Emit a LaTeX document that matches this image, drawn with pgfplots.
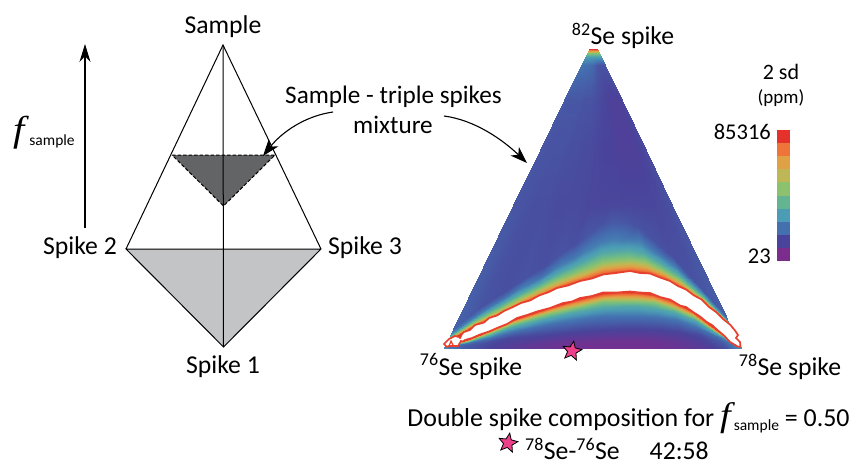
\documentclass[border=0pt]{standalone}
\usepackage{pgfplots}
\usepackage{pgfplotstable}
\pgfplotsset{compat=1.18}
\usepackage{fontspec}
\setmainfont{Carlito}
\newfontfamily\ffont{Liberation Serif}
\newcommand{\fs}[1]{\fontsize{#1}{#1}\selectfont}
\usetikzlibrary{arrows.meta}
\definecolor{grayA}{HTML}{C3C4C6}
\definecolor{grayB}{HTML}{636466}
\definecolor{starc}{HTML}{EC408A}
\definecolor{redl}{HTML}{E8402F}
\definecolor{c0}{RGB}{123,45,142}
\definecolor{c1}{RGB}{74,67,155}
\definecolor{c2}{RGB}{68,112,176}
\definecolor{c3}{RGB}{75,157,181}
\definecolor{c4}{RGB}{99,181,146}
\definecolor{c5}{RGB}{140,194,110}
\definecolor{c6}{RGB}{189,184,85}
\definecolor{c7}{RGB}{224,160,70}
\definecolor{c8}{RGB}{238,116,57}
\definecolor{c9}{RGB}{229,49,43}
\pgfdeclareplotmark{fstar}{%
  \pgfpathmoveto{\pgfpointpolar{90}{1*\pgfplotmarksize}}%
  \pgfpathlineto{\pgfpointpolar{126}{0.45*\pgfplotmarksize}}%
  \pgfpathlineto{\pgfpointpolar{162}{1*\pgfplotmarksize}}%
  \pgfpathlineto{\pgfpointpolar{198}{0.45*\pgfplotmarksize}}%
  \pgfpathlineto{\pgfpointpolar{234}{1*\pgfplotmarksize}}%
  \pgfpathlineto{\pgfpointpolar{270}{0.45*\pgfplotmarksize}}%
  \pgfpathlineto{\pgfpointpolar{306}{1*\pgfplotmarksize}}%
  \pgfpathlineto{\pgfpointpolar{342}{0.45*\pgfplotmarksize}}%
  \pgfpathlineto{\pgfpointpolar{18}{1*\pgfplotmarksize}}%
  \pgfpathlineto{\pgfpointpolar{54}{0.45*\pgfplotmarksize}}%
  \pgfpathclose\pgfusepathqfillstroke}
\pgfplotstableread[row sep=\\]{
xb y v\\
444 49 1\\465 49 1\\485 49 1\\505 49 1\\525 49 1\\545 49 1\\565 49 1\\585 49 1\\605 49 1\\625 49 1\\645 49 1\\665 49 1\\685 49 1\\705 49 1\\725 49 1\\741 49 1\\
444 53 .55\\465 53 .55\\485 53 .55\\505 53 .55\\525 53 .55\\545 53 .55\\565 53 .55\\585 53 .55\\605 53 .55\\625 53 .55\\645 53 .55\\665 53 .55\\685 53 .55\\705 53 .55\\725 53 .55\\741 53 .55\\
444 57 .33\\465 57 .33\\485 57 .33\\505 57 .33\\525 57 .33\\545 57 .33\\565 57 .33\\585 57 .33\\605 57 .33\\625 57 .33\\645 57 .33\\665 57 .33\\685 57 .33\\705 57 .33\\725 57 .33\\741 57 .33\\
444 65 .23\\465 65 .23\\485 65 .23\\505 65 .22\\525 65 .22\\545 65 .22\\565 65 .21\\585 65 .21\\605 65 .19\\625 65 .17\\645 65 .16\\665 65 .15\\685 65 .15\\705 65 .15\\725 65 .15\\741 65 .17\\
444 100 .17\\465 100 .16\\485 100 .16\\505 100 .16\\525 100 .16\\545 100 .15\\565 100 .15\\585 100 .15\\605 100 .14\\625 100 .13\\645 100 .12\\665 100 .11\\685 100 .1\\705 100 .1\\725 100 .1\\741 100 .12\\
444 150 .16\\465 150 .15\\485 150 .15\\505 150 .15\\525 150 .14\\545 150 .14\\565 150 .13\\585 150 .13\\605 150 .12\\625 150 .11\\645 150 .11\\665 150 .1\\685 150 .1\\705 150 .1\\725 150 .11\\741 150 .13\\
444 205 .16\\465 205 .15\\485 205 .14\\505 205 .14\\525 205 .13\\545 205 .13\\565 205 .13\\585 205 .12\\605 205 .12\\625 205 .12\\645 205 .12\\665 205 .12\\685 205 .12\\705 205 .12\\725 205 .13\\741 205 .15\\
444 328.5 .19\\465 306 .15\\485 290.5 .14\\505 277.5 .15\\525 267 .14\\545 254.3 .15\\565 244.3 .14\\585 234.7 .16\\605 225.4 .15\\625 223 .17\\645 222 .16\\665 226.2 .15\\685 239.6 .15\\705 255.9 .14\\725 284.5 .15\\741 316 .18\\
444 332.8 .25\\465 312.8 .25\\485 299 .23\\505 286.9 .25\\525 277.2 .23\\545 266.2 .25\\565 257.9 .24\\585 250 .26\\605 242.4 .25\\625 240 .26\\645 239 .24\\665 242.3 .26\\685 253.2 .24\\705 266.9 .25\\725 291.3 .25\\741 319.4 .25\\
444 335.5 .38\\465 317.2 .38\\485 304.5 .38\\505 292.9 .38\\525 283.8 .38\\545 273.9 .38\\565 266.7 .38\\585 259.9 .38\\605 253.4 .38\\625 251 .38\\645 250 .38\\665 252.8 .38\\685 262 .38\\705 274.1 .38\\725 295.7 .38\\741 321.6 .38\\
444 337.8 .55\\465 320.8 .55\\485 309 .55\\505 297.9 .55\\525 289.2 .55\\545 280.2 .55\\565 273.9 .55\\585 268 .55\\605 262.4 .55\\625 260 .55\\645 259 .55\\665 261.4 .55\\685 269.2 .55\\705 280 .55\\725 299.3 .55\\741 323.4 .55\\
444 339 .7\\465 322.8 .7\\485 311.5 .7\\505 300.6 .7\\525 292.2 .7\\545 283.7 .7\\565 277.9 .7\\585 272.5 .7\\605 267.4 .7\\625 265 .7\\645 264 .7\\665 266.1 .7\\685 273.2 .7\\705 283.2 .7\\725 301.3 .7\\741 324.4 .7\\
444 340 .85\\465 324.4 .85\\485 313.5 .85\\505 302.8 .85\\525 294.6 .85\\545 286.5 .85\\565 281.1 .85\\585 276.1 .85\\605 271.4 .85\\625 269 .85\\645 268 .85\\665 269.9 .85\\685 276.4 .85\\705 285.8 .85\\725 302.9 .85\\741 325.2 .85\\
444 341 1\\465 326 1\\485 315.5 1\\505 305 1\\525 297 1\\545 289.3 1\\565 284.3 1\\585 279.7 1\\605 275.4 1\\625 273 1\\645 272 1\\665 273.7 1\\685 279.6 1\\705 288.4 1\\725 304.5 1\\741 326 1\\
444 346.5 1\\465 339.5 1\\485 330.5 1\\505 320 1\\525 313 1\\545 307 1\\565 301.5 1\\585 297 1\\605 292.8 1\\625 292.1 1\\645 292.1 1\\665 294.3 1\\685 300.3 1\\705 311 1\\725 331 1\\741 346.8 1\\
444 346.6 .85\\465 339.9 .85\\485 331.4 .85\\505 321.4 .85\\525 314.8 .85\\545 309.1 .85\\565 303.8 .85\\585 299.6 .85\\605 295.6 .85\\625 294.9 .85\\645 294.9 .85\\665 297 .85\\685 302.7 .85\\705 312.9 .85\\725 331.9 .85\\741 346.9 .85\\
444 346.7 .55\\465 340.8 .55\\485 333.1 .55\\505 324.2 .55\\525 318.3 .55\\545 313.2 .55\\565 308.5 .55\\585 304.7 .55\\605 301.1 .55\\625 300.5 .55\\645 300.5 .55\\665 302.4 .55\\685 307.5 .55\\705 316.6 .55\\725 333.6 .55\\741 347 .55\\
444 346.9 .38\\465 341.6 .38\\485 334.9 .38\\505 327 .38\\525 321.8 .38\\545 317.3 .38\\565 313.1 .38\\585 309.8 .38\\605 306.6 .38\\625 306.1 .38\\645 306.1 .38\\665 307.7 .38\\685 312.2 .38\\705 320.3 .38\\725 335.3 .38\\741 347.1 .38\\
444 347.1 .3\\465 343.1 .23\\485 337.9 .23\\505 331.8 .23\\525 327.7 .23\\545 324.2 .23\\565 321 .23\\585 318.4 .23\\605 316 .23\\625 315.6 .23\\645 315.6 .23\\665 316.9 .23\\685 320.3 .23\\705 326.5 .23\\725 338.1 .23\\741 347.3 .3\\
444 347.5 .2\\465 345 .17\\485 341.9 .14\\505 338.2 .12\\525 335.8 .12\\545 333.7 .12\\565 331.7 .12\\585 330.2 .12\\605 328.7 .12\\625 328.4 .12\\645 328.4 .12\\665 329.2 .12\\685 331.3 .12\\705 335.1 .13\\725 342.1 .17\\741 347.6 .3\\
444 347.8 .25\\465 347 .17\\485 345.9 .12\\505 344.6 .09\\525 343.8 .07\\545 343.1 .05\\565 342.4 .04\\585 341.9 .03\\605 341.4 .03\\625 341.3 .03\\645 341.3 .03\\665 341.6 .04\\685 342.3 .06\\705 343.6 .09\\725 346 .15\\741 347.9 .3\\
444 348 .3\\465 348 .17\\485 348 .12\\505 348 .09\\525 348 .06\\545 348 .04\\565 348 .03\\585 348 .02\\605 348 .02\\625 348 .02\\645 348 .02\\665 348 .03\\685 348 .05\\705 348 .08\\725 348 .14\\741 348 .35\\
}\heat
\begin{document}
\begin{tikzpicture}
\useasboundingbox (0,0) rectangle (857pt,461pt);
\begin{axis}[
  at={(0,0)}, anchor=south west,
  hide axis, scale only axis, width=857pt, height=461pt,
  xmin=0, xmax=857, ymin=0, ymax=461, y dir=reverse, clip=false,
  colormap={sd}{rgb255=(123,45,142) rgb255=(74,67,155) rgb255=(68,112,176) rgb255=(75,157,181) rgb255=(99,181,146) rgb255=(140,194,110) rgb255=(189,184,85) rgb255=(224,160,70) rgb255=(238,116,57) rgb255=(229,49,43)},
  point meta min=0, point meta max=1,
]
% left diagram
\addplot[fill=grayA, draw=none] coordinates {(126,249)(321,249)(223.5,347)} -- cycle;
\addplot[fill=grayB, draw=none] coordinates {(172,155)(275,155)(223.5,206)} -- cycle;
\addplot[black, line width=1pt] coordinates {(126,249)(223,45)(321,249)(223.5,347)(126,249)(321,249)};
\addplot[black, line width=1pt] coordinates {(223,45)(223.5,347)};
\addplot[black, line width=1pt, dash pattern=on 3.5pt off 2pt] coordinates {(172,155)(275,155)(223.5,206)(172,155)};
% heat map
\addplot[surf, shader=interp, mesh/cols=16, point meta=explicit]
  table[x expr=593+(\thisrow{xb}-593)*(\thisrow{y}-40)/308, y=y, meta=v] {\heat};
% over-range band
\addplot[fill=white, draw=redl, line width=1.7pt] coordinates {
(444,344)(449,339)(455,336)(459,337)(460,338)(462,334)(464,332)(470,330)(475,325)(484,322.5)(489,318)(497,315.5)(504,311)(513,307)(521,303)(530,300.5)(539,295.5)(549,292)(557,288)(568,285.5)(580,281)(592,278.5)(603,274.5)(616,273)(630,271)(640,273)(650,273.5)(660,277.5)(670,281)(678,286)(686,289.5)(694,295.5)(701.7,299.5)(709,307)(716.7,312.5)(723,319)(730,324.5)(735,330.5)(738,335)(736,338)(740,342)(740.5,346.7)(738,346.7)(730,342)(724,335.5)(718,330.5)(712,325)(706.7,322)(700,316.5)(693,312)(686,307)(680,305.5)(670,299.5)(660,297)(650,293)(640,292.5)(630,291.5)(617,292.5)(603,292.5)(592,296)(580,298)(572,301.5)(563,303)(550,308)(537,311.5)(527,315)(517,318)(507,324)(497,328)(489,331.5)(480,334.5)(472,338)(465,340)(463,341.5)(461,341)(458,346)(449,346)(447,347)} -- cycle;
\addplot[redl, line width=1.2pt] coordinates {(449,346)(451,341)(453,345)};
% stars
\addplot[only marks, mark=fstar, mark size=10pt, mark options={fill=starc, draw=black, line width=0.8pt, rotate=-10}] coordinates {(572,351)(508,443)};
% colour bar
\addplot[fill=c9, draw=none] coordinates {(777,130)(790,130)(790,143.1)(777,143.1)} -- cycle;
\addplot[fill=c8, draw=none] coordinates {(777,143.1)(790,143.1)(790,156.2)(777,156.2)} -- cycle;
\addplot[fill=c7, draw=none] coordinates {(777,156.2)(790,156.2)(790,169.3)(777,169.3)} -- cycle;
\addplot[fill=c6, draw=none] coordinates {(777,169.3)(790,169.3)(790,182.4)(777,182.4)} -- cycle;
\addplot[fill=c5, draw=none] coordinates {(777,182.4)(790,182.4)(790,195.5)(777,195.5)} -- cycle;
\addplot[fill=c4, draw=none] coordinates {(777,195.5)(790,195.5)(790,208.6)(777,208.6)} -- cycle;
\addplot[fill=c3, draw=none] coordinates {(777,208.6)(790,208.6)(790,221.7)(777,221.7)} -- cycle;
\addplot[fill=c2, draw=none] coordinates {(777,221.7)(790,221.7)(790,234.8)(777,234.8)} -- cycle;
\addplot[fill=c1, draw=none] coordinates {(777,234.8)(790,234.8)(790,247.9)(777,247.9)} -- cycle;
\addplot[fill=c0, draw=none] coordinates {(777,247.9)(790,247.9)(790,261)(777,261)} -- cycle;
% arrows
\draw[-{Stealth[length=18pt,width=11pt]}, line width=1.1pt] (85,228) -- (85,44);
\draw[-{Stealth[length=17pt,width=12pt,inset=5pt]}, line width=1.1pt] (333,112) .. controls (305,116) and (282,132) .. (263,156);
\draw[-{Stealth[length=17pt,width=12pt,inset=5pt]}, line width=1.1pt] (444,116) .. controls (475,120) and (503,140) .. (527,163);
% text
\node[font=\fs{25.7}] at (223,26.5) {Sample};
\node[font=\fs{25.7}] at (80,247.5) {Spike 2};
\node[font=\fs{25.7}] at (365,247.5) {Spike 3};
\node[font=\fs{25.7}] at (223,366.5) {Spike 1};
\node[anchor=west, inner sep=0pt] at (13,133) {\fs{36}\scalebox{1.12}[1]{\ffont\itshape f}\normalfont\fs{15.5}\hspace{5pt}\raisebox{-4pt}{sample}};
\node[font=\fs{25.2}] at (393.5,96.5) {Sample - triple spikes};
\node[font=\fs{25.2}] at (393,124.5) {mixture};
\node[font=\fs{25.7}] at (623,35.5) {\textsuperscript{82}Se spike};
\node[font=\fs{25.7}] at (471,366.5) {\textsuperscript{76}Se spike};
\node[font=\fs{25.7}] at (790,366.5) {\textsuperscript{78}Se spike};
\node[font=\fs{22}] at (781,71.5) {2 sd};
\node[font=\fs{19}] at (781,98.5) {(ppm)};
\node[anchor=east, inner sep=0pt, font=\fs{22.5}] at (771,132) {85316};
\node[anchor=east, inner sep=0pt, font=\fs{22.5}] at (771,256) {23};
\node[font=\fs{25.9}] at (628.5,418) {Double spike composition for \fs{34}\scalebox{1.12}[1]{\ffont\itshape f}\normalfont\fs{15.5}\hspace{3pt}\raisebox{-4pt}{sample}\fs{25.9}\ = 0.50};
\node[anchor=west, inner sep=0pt, font=\fs{25.7}] at (525,449) {\textsuperscript{78}Se-\textsuperscript{76}Se\hspace{30pt}42:58};
\end{axis}
\end{tikzpicture}
\end{document}
